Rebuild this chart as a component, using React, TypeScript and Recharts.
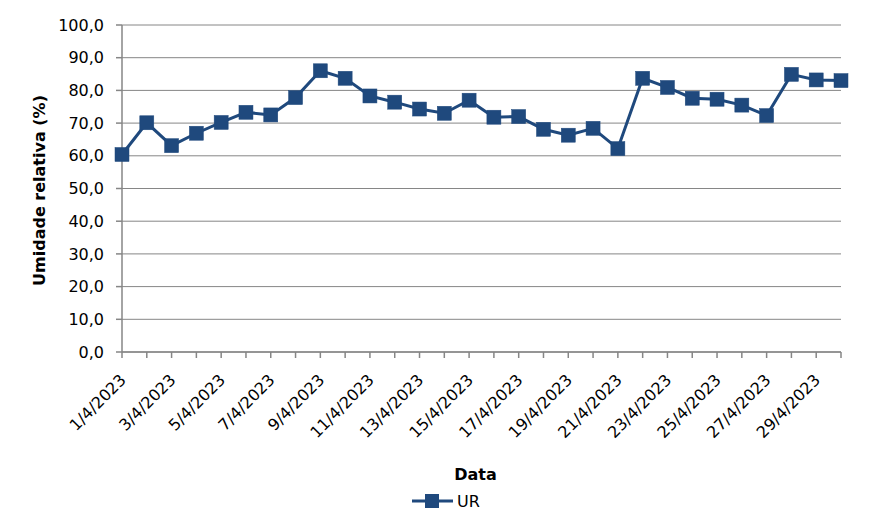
import React from "react";
import {
  LineChart,
  Line,
  XAxis,
  YAxis,
  CartesianGrid,
  Legend,
} from "recharts";

const dates = [
  "1/4/2023", "2/4/2023", "3/4/2023", "4/4/2023", "5/4/2023", "6/4/2023",
  "7/4/2023", "8/4/2023", "9/4/2023", "10/4/2023", "11/4/2023", "12/4/2023",
  "13/4/2023", "14/4/2023", "15/4/2023", "16/4/2023", "17/4/2023", "18/4/2023",
  "19/4/2023", "20/4/2023", "21/4/2023", "22/4/2023", "23/4/2023", "24/4/2023",
  "25/4/2023", "26/4/2023", "27/4/2023", "28/4/2023", "29/4/2023", "30/4/2023",
];

const urValues = [
  60.4, 70.1, 63.1, 66.9, 70.2, 73.3, 72.5, 77.8, 86.0, 83.7,
  78.3, 76.4, 74.3, 73.0, 77.0, 71.8, 72.0, 68.1, 66.3, 68.4,
  62.2, 83.7, 80.9, 77.6, 77.3, 75.5, 72.3, 84.9, 83.2, 83.0,
];

const yTicks = [0, 10, 20, 30, 40, 50, 60, 70, 80, 90, 100];

const seriesName = "UR";
const xTitle = "Data";
const yTitle = "Umidade relativa (%)";

const data = dates.map((d, i) => ({ date: d, UR: urValues[i] }));

const COLOR = "#1F497D";
const GRID = "#868686";
const FONT = "'DejaVu Sans', sans-serif";

const fmt = (v: number) => v.toFixed(1).replace(".", ",");

const XTick = (props: any) => {
  const { x, y, payload, index } = props;
  if (index % 2 !== 0) return <g />;
  const ax = x + 5;
  const ay = y + 23;
  return (
    <text
      x={ax}
      y={ay}
      textAnchor="end"
      fontFamily={FONT}
      fontSize={16}
      fill="#000"
      transform={`rotate(-45, ${ax}, ${ay})`}
    >
      {payload.value}
    </text>
  );
};

const SquareDot = (props: any) => {
  const { cx, cy, index } = props;
  if (cx == null || cy == null) return <g key={index} />;
  return (
    <rect
      key={index}
      x={cx - 7}
      y={cy - 7}
      width={14}
      height={14}
      fill={COLOR}
      stroke={COLOR}
      strokeWidth={0.5}
    />
  );
};

const LegendContent = (props: any) => {
  const { payload } = props;
  return (
    <div style={{ position: "relative", height: 30 }}>
      {(payload || []).map((p: any) => (
        <div
          key={p.value}
          style={{
            position: "absolute",
            left: 411,
            top: 0,
            height: 30,
            display: "flex",
            alignItems: "center",
          }}
        >
          <svg width={44} height={30}>
            <line x1={1} y1={15} x2={42} y2={15} stroke={COLOR} strokeWidth={3} />
            <rect x={14} y={8} width={14} height={14} fill={COLOR} />
          </svg>
          <span
            style={{
              fontFamily: FONT,
              fontSize: 16,
              color: "#000",
              marginLeft: 2,
            }}
          >
            {p.value}
          </span>
        </div>
      ))}
    </div>
  );
};

export default function App() {
  return (
    <div style={{ position: "absolute", left: 0, top: 0, width: 886, height: 531, background: "#fff" }}>
      <LineChart
        width={886}
        height={531}
        data={data}
        margin={{ top: 25, right: 45, bottom: 15, left: 0 }}
      >
        <CartesianGrid vertical={false} stroke={GRID} strokeWidth={1} />
        <XAxis
          dataKey="date"
          interval={0}
          tick={<XTick />}
          tickSize={6}
          tickMargin={0}
          height={134}
          axisLine={{ stroke: GRID, strokeWidth: 1.5 }}
          tickLine={{ stroke: GRID, strokeWidth: 1.5 }}
          label={(p: any) => {
            const vb = p.viewBox || {};
            return (
              <text
                x={vb.x + vb.width / 2 - 6}
                y={vb.y + 128}
                textAnchor="middle"
                fontFamily={FONT}
                fontWeight="bold"
                fontSize={16}
                fill="#000"
              >
                {xTitle}
              </text>
            );
          }}
        />
        <XAxis
          xAxisId="top"
          dataKey="date"
          orientation="top"
          height={0}
          tick={false}
          tickLine={false}
          axisLine={{ stroke: "#000", strokeWidth: 1.5 }}
        />
        <YAxis
          domain={[0, 100]}
          ticks={yTicks}
          width={122}
          interval={0}
          tickFormatter={fmt}
          tickSize={6}
          tickMargin={12}
          tick={{ fontFamily: FONT, fontSize: 16, fill: "#000" }}
          axisLine={{ stroke: GRID, strokeWidth: 1.5 }}
          tickLine={{ stroke: GRID, strokeWidth: 1.5 }}
          label={(p: any) => {
            const vb = p.viewBox || {};
            const cx = 45;
            const cy = vb.y + vb.height / 2 + 2;
            return (
              <text
                x={cx}
                y={cy}
                textAnchor="middle"
                fontFamily={FONT}
                fontWeight="bold"
                fontSize={16}
                fill="#000"
                transform={`rotate(-90, ${cx}, ${cy})`}
              >
                {yTitle}
              </text>
            );
          }}
        />
        <YAxis
          yAxisId="right"
          orientation="right"
          domain={[0, 100]}
          width={0}
          tick={false}
          tickLine={false}
          axisLine={{ stroke: "#000", strokeWidth: 1.5 }}
        />
        <Legend
          verticalAlign="bottom"
          height={30}
          content={<LegendContent />}
          wrapperStyle={{ left: 0, width: 886, bottom: 15 }}
        />
        <Line
          type="linear"
          dataKey="UR"
          name={seriesName}
          stroke={COLOR}
          strokeWidth={3}
          dot={<SquareDot />}
          activeDot={false}
          isAnimationActive={false}
        />
      </LineChart>
    </div>
  );
}
